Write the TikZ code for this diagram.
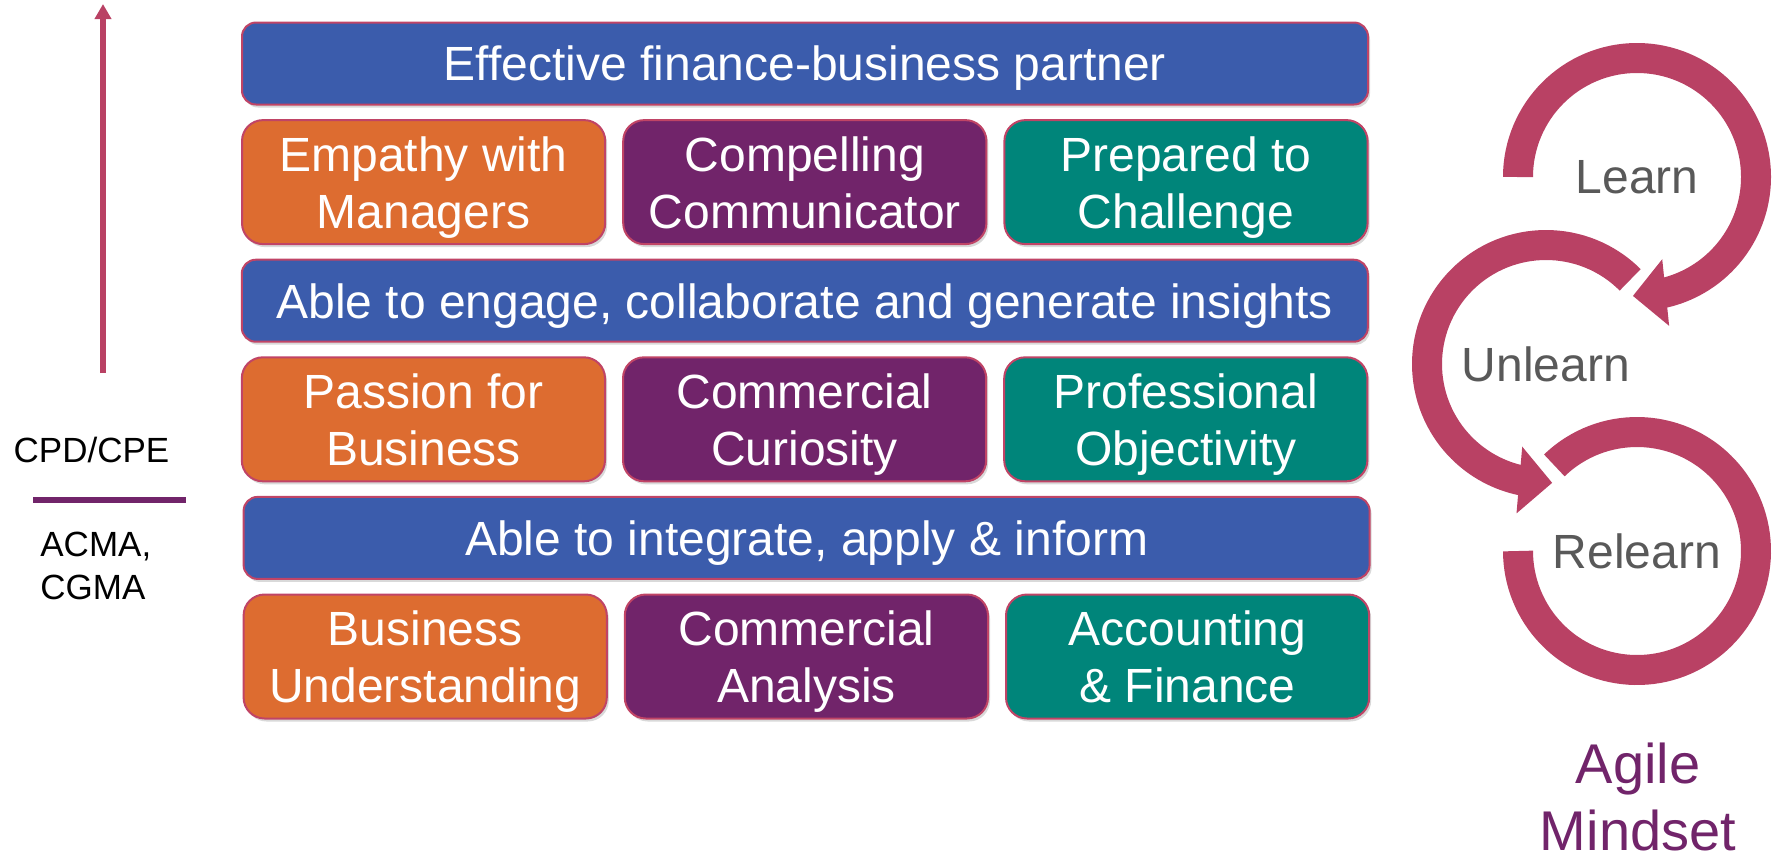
\documentclass[tikz,border=0pt]{standalone}
\usepackage{fontspec}
\setmainfont{Liberation Sans}
\usetikzlibrary{positioning,arrows.meta,bending,shadows}
\definecolor{barblue}{RGB}{59,92,172}
\definecolor{cardorange}{RGB}{221,108,48}
\definecolor{cardpurple}{RGB}{113,36,106}
\definecolor{cardteal}{RGB}{0,133,122}
\definecolor{loopred}{RGB}{185,65,100}
\definecolor{edgered}{RGB}{192,68,102}
\definecolor{loopgray}{RGB}{89,89,89}

\tikzset{
  bar/.style={draw=edgered, line width=1pt, fill=barblue, rounded corners=7pt,
    minimum width=563pt, minimum height=41pt, inner sep=0pt, text=white,
    text depth=0pt, font=\fontsize{24}{28.5}\selectfont,
    drop shadow={shadow xshift=1pt, shadow yshift=-1.5pt, opacity=.3}},
  card/.style={bar, fill=#1, rounded corners=10.5pt, minimum width=181.6pt,
    minimum height=62pt, align=center},
  loopring/.style={line width=15pt, loopred},
  loophead/.style={-{Triangle[length=16.5pt,width=32.5pt,flex]}},
  looplabel/.style={text=loopgray, font=\fontsize{24}{28}\selectfont}
}

\begin{document}
\begin{tikzpicture}[x=0.5pt, y=-0.5pt]
    \useasboundingbox (0,0) rectangle (1773,859);

    % the stack
    \node[bar] (partner) at (805,63.5) {Effective finance-business partner};
    \node[card=cardorange, below right=6.8pt and 0pt of partner.south west] (empathy) {Empathy with\\Managers};
    \node[card=cardpurple, right=8pt of empathy] (communicator) {Compelling\\Communicator};
    \node[card=cardteal, right=8pt of communicator] (challenge) {Prepared to\\Challenge};

    \node[bar, below=6.8pt of communicator] (engage) {Able to engage, collaborate and generate insights};
    \node[card=cardorange, below right=6.8pt and 0pt of engage.south west] (passion) {Passion for\\Business};
    \node[card=cardpurple, right=8pt of passion] (curiosity) {Commercial\\Curiosity};
    \node[card=cardteal, right=8pt of curiosity] (objectivity) {Professional\\Objectivity};

    \node[bar, below=6.8pt of curiosity, xshift=1pt] (integrate) {Able to integrate, apply \& inform};
    \node[card=cardorange, below right=6.8pt and 0pt of integrate.south west] (understanding) {Business\\Understanding};
    \node[card=cardpurple, right=8pt of understanding] (analysis) {Commercial\\Analysis};
    \node[card=cardteal, right=8pt of analysis] (finance) {Accounting\\\& Finance};

    % CPD scale on the left
    \coordinate (cpdbase) at (103,373);
    \coordinate (cpdtop) at (103,4);
    \draw[-{Triangle[length=7.5pt,width=8pt]}, line width=3pt, loopred] (cpdbase) -- (cpdtop);
    \node[anchor=base, inner sep=0pt, font=\fontsize{17.5}{21.5}\selectfont] (cpd) at (91.5,462) {CPD/CPE};
    \draw[line width=2.6pt, cardpurple] (33,500) -- (186,500);
    \node[anchor=north west, inner sep=0pt, align=left, font=\fontsize{17.5}{21.5}\selectfont] (acma) at (40,532) {ACMA,\\CGMA};

    % learning loops
    \node[looplabel] (learn) at (1637,177) {Learn};
    \node[looplabel] (unlearn) at (1546,364) {Unlearn};
    \node[looplabel] (relearn) at (1637,551) {Relearn};
    \draw[loopring, loophead] (learn.center) ++(180:119) arc[start angle=180, end angle=452, radius=119];
    \draw[loopring, loophead] (unlearn.center) ++(315:119) arc[start angle=315, end angle=87, radius=119];
    \draw[loopring] (relearn.center) ++(226:119) arc[start angle=226, end angle=540, radius=119];

    \node[anchor=north, inner sep=0pt, align=center, text=cardpurple,
      font=\fontsize{28}{33.5}\selectfont] (agile) at (1638,743) {Agile\\Mindset};
\end{tikzpicture}
\end{document}
